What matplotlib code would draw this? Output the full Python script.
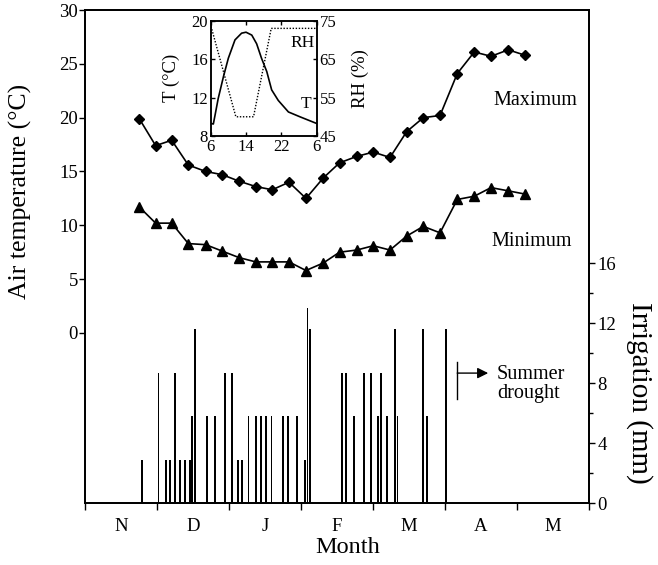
import matplotlib
matplotlib.use("Agg")
import matplotlib.pyplot as plt
from matplotlib.ticker import FixedLocator, NullFormatter

plt.rcParams['font.family'] = ['Liberation Serif', 'DejaVu Serif']
plt.rcParams['mathtext.fontset'] = 'stix'

# Weekly sampling dates, expressed in months since 1 November
week_pos = [0.754, 0.981, 1.204, 1.435, 1.676, 1.907, 2.139, 2.371, 2.601, 2.833,
            3.069, 3.310, 3.535, 3.774, 4.004, 4.236, 4.468, 4.699, 4.931, 5.171,
            5.407, 5.639, 5.879, 6.111]
# Weekly mean daily maximum and minimum air temperature (°C)
t_max = [19.9, 17.4, 17.9, 15.6, 15.0, 14.7, 14.1, 13.6, 13.3, 14.0,
         12.5, 14.4, 15.8, 16.4, 16.8, 16.3, 18.7, 20.0, 20.2, 24.1,
         26.1, 25.7, 26.3, 25.8]
t_min = [11.7, 10.2, 10.2, 8.3, 8.2, 7.6, 7.0, 6.6, 6.6, 6.6,
         5.8, 6.5, 7.5, 7.7, 8.1, 7.7, 9.0, 9.9, 9.3, 12.4,
         12.7, 13.5, 13.2, 12.9]

# Irrigation events: date (months since 1 November) and depth (mm)
irr_pos = [0.79, 1.02, 1.12, 1.18, 1.25, 1.32, 1.39, 1.46, 1.49, 1.53,
           1.70, 1.81, 1.94, 2.04, 2.13, 2.18, 2.27, 2.38, 2.44, 2.51,
           2.59, 2.75, 2.82, 2.95, 3.06, 3.09, 3.13, 3.57, 3.63, 3.74,
           3.87, 3.97, 4.07, 4.11, 4.20, 4.31, 4.34, 4.69, 4.75, 5.02]
irr_mm = [2.9, 8.7, 2.9, 2.9, 8.7, 2.9, 2.9, 2.9, 5.8, 11.6,
          5.8, 5.8, 8.7, 8.7, 2.9, 2.9, 5.8, 5.8, 5.8, 5.8,
          5.8, 5.8, 5.8, 5.8, 2.9, 13.0, 11.6, 8.7, 8.7, 5.8,
          8.7, 8.7, 5.8, 8.7, 5.8, 11.6, 5.8, 11.6, 5.8, 11.6]

months = ['N', 'D', 'J', 'F', 'M', 'A', 'M']
drought_start = 5.17

# Typical daily course of temperature and relative humidity (hour of day)
hour_t = [6.0, 6.6, 7.0, 7.7, 8.9, 10.0, 11.5, 13.0, 14.0, 15.3, 16.4, 17.5,
          18.7, 19.8, 21.3, 23.6, 26.2, 30.0]
temp_day = [9.3, 9.25, 10.2, 11.9, 14.2, 16.1, 18.0, 18.7, 18.8, 18.5, 17.6, 16.1,
            14.7, 12.8, 11.7, 10.5, 10.0, 9.3]
hour_rh = [6.0, 6.2, 11.7, 15.7, 19.7, 30.0]
rh_day = [73.5, 73.0, 50.0, 50.0, 73.0, 73.0]

fig = plt.figure(figsize=(6.58, 5.65), dpi=100)
ax = fig.add_axes([0.1292, 0.1097, 0.7659, 0.8726])
ax2 = ax.twinx()

# Temperature series
ax.plot(week_pos, t_max, color='black', lw=1.2, marker='D', ms=5.0)
ax.plot(week_pos, t_min, color='black', lw=1.2, marker='^', ms=6.5)
ax.set_ylim(-15.8, 30)
ax.set_xlim(0, 7)
ax.set_yticks([0, 5, 10, 15, 20, 25, 30])
ax.tick_params(axis='y', direction='out', length=4, width=1, labelsize=13.5, pad=1)

ax.xaxis.set_major_locator(FixedLocator(range(8)))
ax.xaxis.set_major_formatter(NullFormatter())
ax.xaxis.set_minor_locator(FixedLocator([i + 0.5 for i in range(7)]))
ax.set_xticklabels(months, minor=True)
ax.tick_params(axis='x', which='major', direction='out', length=5, width=1)
ax.tick_params(axis='x', which='minor', length=0, labelsize=13.5, pad=11)

ax.set_ylabel('Air temperature (°C)', fontsize=18.5)
ax.yaxis.set_label_coords(-0.105, 0.631)
ax.set_xlabel('Month', fontsize=17.5)
ax.xaxis.set_label_coords(0.522, -0.069)

ax.text(5.67, 21.6, 'Maximum', fontsize=14.5, va='center', ha='left')
ax.text(5.65, 8.45, 'Minimum', fontsize=14.5, va='center', ha='left')

# Irrigation bars
ax2.bar(irr_pos, irr_mm, width=0.026, color='black', align='center')
ax2.set_ylim(0, 32.9)
ax2.set_yticks([0, 4, 8, 12, 16])
ax2.set_yticks([2, 6, 10, 14], minor=True)
ax2.tick_params(axis='y', which='major', direction='out', length=4, width=1,
                labelsize=13.5, pad=2)
ax2.tick_params(axis='y', which='minor', direction='out', length=3, width=1)
ax2.set_ylabel('Irrigation (mm)', fontsize=21, rotation=270, va='center')
ax2.yaxis.set_label_coords(1.101, 0.223)

# Summer drought marker
ax2.plot([drought_start, drought_start], [6.95, 9.4], color='black', lw=1.0)
ax2.annotate('', xy=(drought_start + 0.43, 8.67), xytext=(drought_start, 8.67),
             arrowprops=dict(arrowstyle='-|>', color='black', lw=1.0,
                             mutation_scale=16, shrinkA=0, shrinkB=0))
ax2.text(drought_start + 0.55, 7.95, 'Summer\ndrought', fontsize=14.5,
         va='center', ha='left', linespacing=1.05)

for a in (ax, ax2):
    for s in a.spines.values():
        s.set_linewidth(1.3)

# Inset: daily course of T and RH
ins = fig.add_axes([0.3202, 0.7593, 0.1611, 0.2041])
ins2 = ins.twinx()
ins.plot(hour_t, temp_day, color='black', lw=1.2)
ins.set_xlim(6, 30)
ins.set_ylim(8, 20)
ins.set_xticks([6, 14, 22, 30])
ins.set_xticklabels(['6', '14', '22', '6'])
ins.set_yticks([8, 12, 16, 20])
ins.tick_params(direction='in', length=3, width=1, labelsize=12, pad=2, top=True)
ins.set_ylabel('T (°C)', fontsize=13.5, labelpad=8)

ins2.plot(hour_rh, rh_day, color='black', lw=1.0, ls=(0, (1, 1.2)))
ins2.set_ylim(45, 75)
ins2.set_yticks([45, 55, 65, 75])
ins2.tick_params(direction='in', length=3, width=1, labelsize=12, pad=2)
ins2.set_ylabel('RH (%)', fontsize=13.5, rotation=90, labelpad=11)

ins.text(29.6, 17.7, 'RH', fontsize=12.5, ha='right', va='center')
ins.text(27.5, 11.3, 'T', fontsize=12.5, ha='center', va='center')
for a in (ins, ins2):
    for s in a.spines.values():
        s.set_linewidth(1.1)

fig.savefig('out.png', dpi=100)
